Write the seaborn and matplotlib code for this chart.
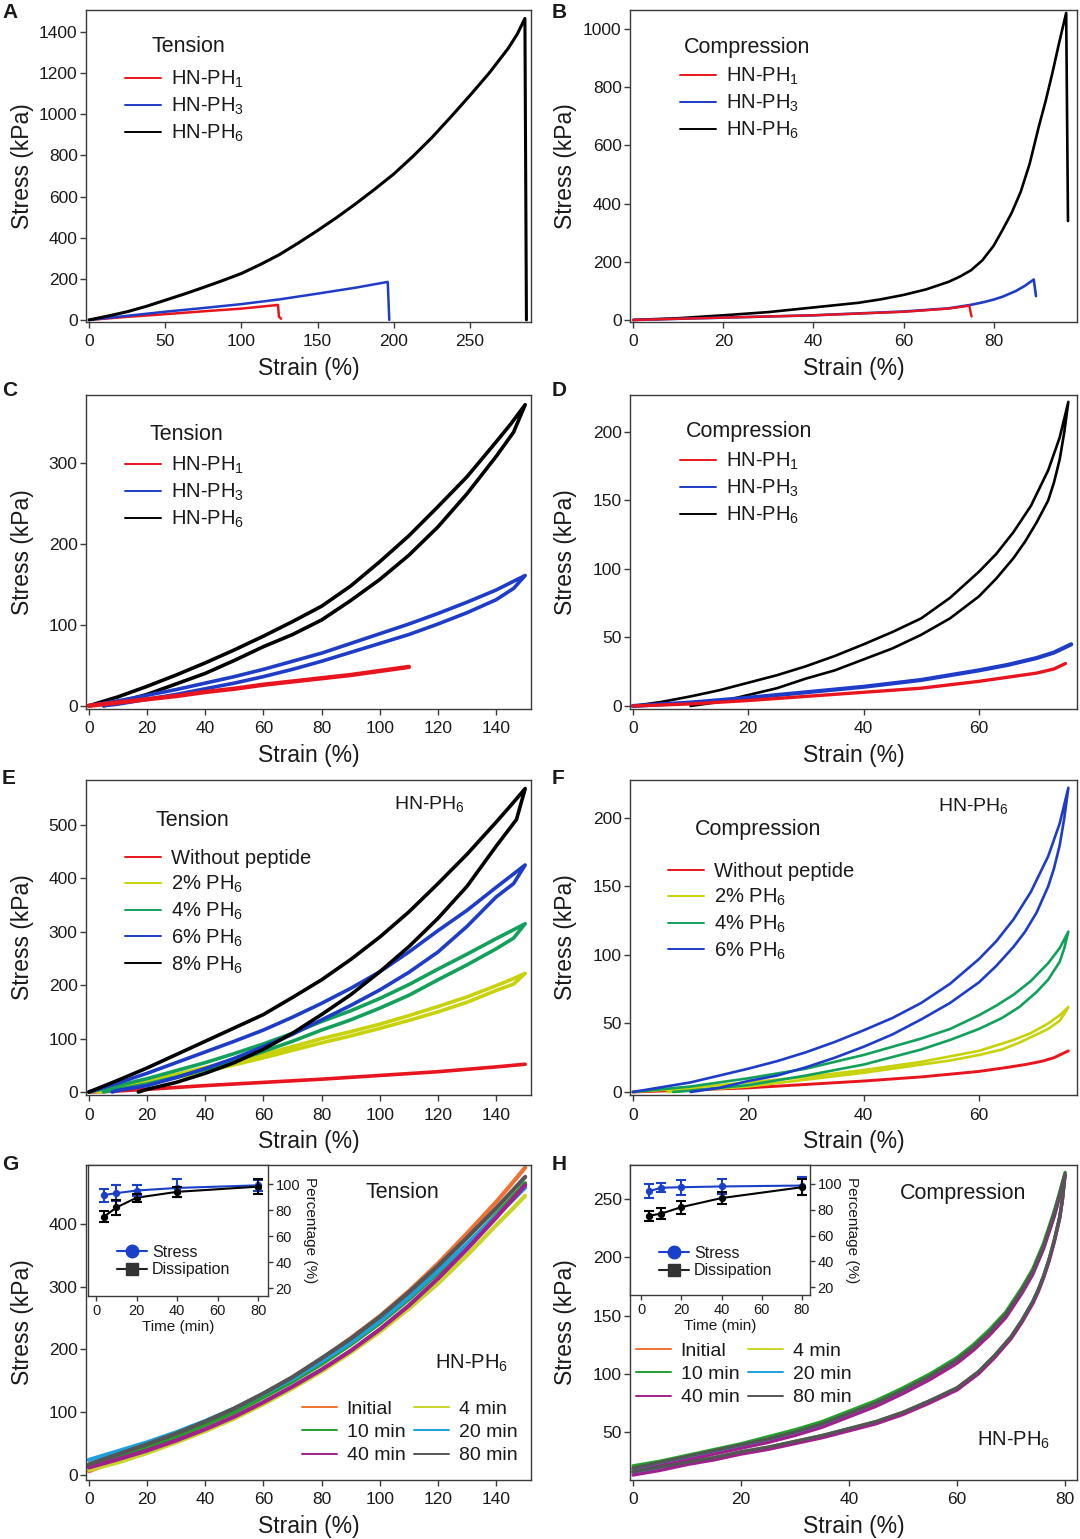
import matplotlib
matplotlib.use("Agg")
import matplotlib.pyplot as plt
import seaborn as sns
from matplotlib.lines import Line2D

# ======================= DATA =======================
# ---- Panel A: tension to failure
A_PH1_strain = [0, 25, 50, 75, 100, 124, 124.6, 126]
A_PH1_stress = [0, 15, 28, 42, 55, 73, 16, 6]
A_PH3_strain = [0, 25, 50, 75, 100, 125, 150, 175, 196, 197]
A_PH3_stress = [0, 20, 40, 58, 77, 100, 128, 157, 185, 0]
A_PH6_strain = [0, 12.5, 25, 37.5, 50, 62.5, 75, 87.5, 100, 112.5, 125, 137.5, 150, 162.5,
                175, 187.5, 200, 212.5, 225, 237.5, 250, 262.5, 275, 281, 286, 287]
A_PH6_stress = [0, 19, 40, 66, 96, 126, 158, 191, 226, 270, 318, 375, 435, 498,
                565, 636, 710, 795, 887, 988, 1092, 1200, 1320, 1390, 1466, 0]

# ---- Panel B: compression to failure
B_PH1_strain = [0, 20, 40, 60, 70, 74.6, 74.9, 75.1]
B_PH1_stress = [0, 8, 16, 28, 39, 49, 25, 12]
B_PH3_strain = [0, 20, 40, 60, 70, 75, 78, 80, 82, 85, 87, 88.9, 89.4]
B_PH3_stress = [0, 8, 16, 29, 40, 52, 62, 70, 80, 100, 118, 139, 82]
B_PH6_strain = [0, 10, 20, 30, 40, 50, 55, 60, 65, 70, 72.5, 75, 77.5, 80, 82, 84, 86, 88,
                90, 91.5, 93, 94.5, 96.1, 96.5]
B_PH6_stress = [0, 6, 16, 27, 43, 59, 71, 86, 105, 131, 149, 171, 205, 255, 310, 368, 440,
                537, 663, 750, 846, 950, 1055, 340]

# ---- Panel C: tension loading-unloading loops
C_PH1_strain = [0, 10, 20, 30, 40, 50, 60, 70, 80, 90, 100, 110]
C_PH1_stress = [0, 4, 8, 12, 17, 21, 26, 30, 34, 38, 43, 48]
C_PH3_strain = [0, 10, 20, 30, 40, 50, 60, 70, 80, 90, 100, 110, 120, 130, 140, 145, 150,
                146, 140, 130, 120, 110, 100, 90, 80, 70, 60, 50, 40, 30, 20, 10, 5]
C_PH3_stress = [0, 6, 13, 20, 28, 36, 45, 55, 65, 77, 89, 101, 114, 128, 143, 152, 161,
                145, 131, 115, 101, 88, 77, 66, 55, 45, 36, 28, 21, 14, 8, 2, 0]
C_PH6_strain = [0, 10, 20, 30, 40, 50, 60, 70, 80, 90, 100, 110, 120, 130, 140, 145, 150,
                146, 140, 130, 120, 110, 100, 90, 80, 70, 60, 50, 40, 30, 20, 10, 5]
C_PH6_stress = [0, 11, 24, 38, 53, 69, 86, 104, 123, 148, 178, 210, 246, 283, 326, 348, 372,
                338, 308, 262, 221, 186, 156, 130, 106, 88, 73, 56, 40, 27, 14, 4, 0]

# ---- Panel D: compression loading-unloading loops
D_PH1_strain = [0, 10, 20, 30, 40, 50, 60, 65, 70, 73, 75]
D_PH1_stress = [0, 1.5, 4, 7, 10, 13, 18, 21, 24, 27, 31]
D_PH3_strain = [0, 10, 20, 30, 40, 50, 60, 65, 70, 73, 76]
D_PH3_stress = [0, 2.5, 6, 10, 14, 19, 26, 30, 35, 39, 45]
D_PH6_strain = [0, 5, 10, 15, 20, 25, 30, 35, 40, 45, 50, 55, 60, 63, 66, 69, 72, 74, 75.5,
                74.8, 74, 73, 72, 70, 68, 66, 63, 60, 55, 50, 45, 40, 35, 30, 25, 20, 15, 10]
D_PH6_stress = [0, 3, 7, 11.5, 17, 22.5, 29, 36.5, 45, 54, 64, 79, 98, 111, 127, 146, 172,
                196, 222,
                200, 180, 163, 150, 134, 120, 108, 93, 80, 64, 52, 42, 34, 26, 20, 13, 8, 3, 0]

# ---- Panel E: tension loops, peptide content
E_0_strain = [0, 10, 20, 40, 60, 80, 100, 120, 140, 150]
E_0_stress = [0, 2, 5, 12, 18, 24, 31, 38, 47, 52]
E_2_strain = [0, 10, 20, 30, 40, 50, 60, 70, 80, 90, 100, 110, 120, 130, 140, 145, 150,
              146, 140, 130, 120, 110, 100, 90, 80, 70, 60, 50, 40, 30, 20, 10, 3]
E_2_stress = [0, 10, 21, 33, 46, 58, 71, 85, 100, 113, 127, 143, 160, 178, 199, 210, 222,
              202, 190, 168, 150, 134, 119, 105, 92, 78, 64, 51, 38, 27, 16, 6, 0]
E_4_strain = [0, 10, 20, 30, 40, 50, 60, 70, 80, 90, 100, 110, 120, 130, 140, 145, 150,
              146, 140, 130, 120, 110, 100, 90, 80, 70, 60, 50, 40, 30, 20, 10, 5]
E_4_stress = [0, 12, 25, 40, 55, 72, 90, 110, 132, 152, 175, 201, 230, 258, 287, 301, 315,
              288, 268, 238, 210, 181, 157, 135, 116, 95, 76, 58, 42, 28, 15, 5, 0]
E_6_strain = [0, 10, 20, 30, 40, 50, 60, 70, 80, 90, 100, 110, 120, 130, 140, 145, 150,
              146, 140, 130, 120, 110, 100, 90, 80, 70, 60, 50, 40, 30, 20, 10, 8]
E_6_stress = [0, 17, 35, 55, 75, 95, 116, 140, 166, 194, 225, 262, 302, 340, 383, 404, 425,
              390, 365, 310, 262, 224, 191, 162, 135, 108, 85, 63, 44, 27, 12, 3, 0]
E_8_strain = [0, 10, 20, 30, 40, 50, 60, 70, 80, 90, 100, 110, 120, 130, 140, 145, 150,
              147, 140, 130, 120, 110, 100, 90, 80, 70, 60, 50, 40, 30, 20, 17]
E_8_stress = [0, 22, 45, 70, 95, 120, 145, 177, 210, 248, 290, 337, 390, 445, 505, 536, 568,
              510, 460, 385, 325, 272, 225, 182, 145, 110, 80, 55, 35, 18, 5, 0]

# ---- Panel F: compression loops, peptide content
F_0_strain = [0, 10, 20, 30, 40, 50, 55, 60, 65, 68, 71, 73, 75.5]
F_0_stress = [0, 1.5, 3, 5.5, 8, 11, 13, 15, 18, 20, 22.5, 25, 30]
F_2_strain = [0, 10, 20, 30, 40, 50, 55, 60, 63, 66, 69, 72, 74, 75.5,
              74.8, 74, 72, 70, 67, 64, 60, 55, 50, 40, 30, 20, 10, 6]
F_2_stress = [0, 3, 7, 11, 16, 22, 26, 30, 34, 38, 43, 50, 56, 62,
              57, 52, 46, 42, 36, 31, 27, 23, 20, 14, 9, 4, 1, 0]
F_4_strain = [0, 10, 20, 30, 40, 50, 55, 60, 63, 66, 69, 72, 74, 75.5,
              74.8, 74, 72, 70, 67, 64, 60, 55, 50, 40, 30, 20, 10, 7]
F_4_stress = [0, 4, 10, 17, 27, 39, 46, 56, 63, 71, 81, 94, 105, 117,
              105, 95, 82, 73, 62, 54, 46, 38, 31, 20, 12, 5, 1, 0]
F_6_strain = [0, 5, 10, 15, 20, 25, 30, 35, 40, 45, 50, 55, 60, 63, 66, 69, 72, 74, 75.5,
              74.8, 74, 73, 72, 70, 68, 66, 63, 60, 55, 50, 45, 40, 35, 30, 25, 20, 15, 10]
F_6_stress = [0, 3.5, 7, 12, 17, 22.5, 29, 36.5, 45, 54, 65, 79, 97, 110, 126, 146, 172,
              196, 222,
              200, 180, 163, 150, 131, 117, 106, 92, 80, 65, 53, 42, 33, 25, 18, 12, 8, 3, 0]

# ---- Panel G: tension, recovery time (HN-PH6)
G_strain = [0, 10, 20, 30, 40, 50, 60, 70, 80, 90, 100, 110, 120, 130, 140, 145, 150]
G_initial = [6, 24, 42, 61, 82, 104, 128, 155, 185, 218, 253, 293, 337, 385, 435, 462, 490]
G_4min = [8, 20, 35, 52, 70, 90, 113, 138, 165, 195, 228, 265, 305, 350, 398, 421, 445]
G_10min = [14, 29, 44, 61, 80, 100, 124, 149, 177, 208, 242, 280, 322, 367, 415, 440, 465]
G_20min = [24, 38, 52, 68, 86, 106, 129, 153, 181, 211, 245, 283, 325, 368, 413, 435, 458]
G_40min = [12, 25, 39, 55, 73, 93, 116, 141, 168, 198, 232, 270, 313, 360, 410, 436, 462]
G_80min = [17, 33, 49, 66, 85, 106, 130, 156, 186, 217, 252, 291, 333, 378, 425, 450, 475]

# ---- Panel H: compression, recovery time (HN-PH6) loops (loading then unloading)
H_strain = [0, 5, 10, 15, 20, 25, 30, 35, 40, 45, 50, 55, 60, 63, 66, 69, 72, 74, 76, 78, 79, 80,
            79.5, 79, 78, 77, 76, 75, 74, 72, 70, 67, 64, 60, 55, 50, 45, 40, 35, 30, 25, 20,
            15, 10, 5, 0]
H_initial = [19, 23, 28, 33, 38, 43, 49, 56, 65, 74, 85, 97, 111, 122, 135, 150, 171, 187, 209,
             237, 254, 272,
             249, 234, 214, 197, 183, 171, 161, 145, 131, 115, 101, 87, 76, 66, 58, 52, 46, 41,
             36, 32, 27, 23, 19, 15]
H_4min = [18, 22, 27, 32, 37, 42, 48, 55, 64, 73, 84, 96, 110, 121, 134, 149, 170, 186, 208,
          236, 253, 271,
          249, 234, 214, 197, 183, 171, 161, 145, 131, 115, 101, 87, 76, 66, 58, 52, 46, 41,
          36, 32, 27, 23, 19, 14]
H_10min = [21, 25, 30, 35, 40, 46, 52, 59, 68, 77, 88, 100, 114, 125, 138, 153, 174, 190, 212,
           240, 256, 273,
           250, 235, 215, 198, 184, 172, 162, 146, 132, 116, 102, 88, 77, 67, 59, 53, 47, 42,
           37, 33, 28, 24, 21, 18]
H_20min = [17, 22, 27, 32, 37, 42, 48, 55, 64, 73, 84, 96, 110, 121, 134, 149, 170, 186, 208,
           236, 253, 271,
           249, 234, 214, 197, 183, 171, 161, 145, 131, 115, 101, 87, 76, 66, 58, 52, 46, 41,
           36, 32, 27, 23, 19, 15]
H_40min = [16, 21, 26, 31, 36, 41, 47, 54, 63, 72, 83, 95, 109, 120, 133, 148, 169, 185, 207,
           235, 252, 271,
           249, 233, 213, 196, 182, 170, 160, 144, 130, 114, 100, 86, 75, 65, 57, 51, 45, 40,
           35, 31, 26, 22, 17, 13]
H_80min = [19, 24, 29, 34, 39, 44, 50, 57, 66, 75, 86, 98, 112, 123, 136, 151, 172, 188, 210,
           238, 255, 272,
           250, 235, 215, 198, 184, 172, 162, 146, 132, 116, 102, 88, 77, 67, 59, 53, 47, 42,
           37, 33, 28, 24, 20, 16]

# ---- Insets: recovery percentage vs time
inset_time = [4, 10, 20, 40, 80]
G_stress_pct = [91.5, 93, 95, 97, 99]
G_stress_err = [5, 6, 4.5, 7, 4]
G_diss_pct = [75, 82, 89.5, 94, 98]
G_diss_err = [4.5, 5.5, 3, 4, 6]
H_stress_pct = [94.3, 97, 97.4, 98, 98.7]
H_stress_err = [5.5, 3.3, 5.7, 6, 7]
H_diss_pct = [75.3, 77, 82, 89, 97.4]
H_diss_err = [4, 4.5, 5, 4.5, 6]

# labels
PH_labels = ["HN-PH$_1$", "HN-PH$_3$", "HN-PH$_6$"]
E_labels = ["Without peptide", "2% PH$_6$", "4% PH$_6$", "6% PH$_6$", "8% PH$_6$"]
F_labels = ["Without peptide", "2% PH$_6$", "4% PH$_6$", "6% PH$_6$"]
time_labels = ["Initial", "4 min", "10 min", "20 min", "40 min", "80 min"]

# ======================= STYLE =======================
sns.set_theme(style="white")
plt.rcParams["font.family"] = ["Liberation Sans", "DejaVu Sans"]
plt.rcParams["mathtext.fontset"] = "custom"
plt.rcParams["mathtext.rm"] = "Liberation Sans"
plt.rcParams["mathtext.it"] = "Liberation Sans:italic"
plt.rcParams["mathtext.bf"] = "Liberation Sans:bold"
TXT = "#1a1a1a"
plt.rcParams["text.color"] = TXT
plt.rcParams["axes.labelcolor"] = TXT
plt.rcParams["xtick.color"] = TXT
plt.rcParams["ytick.color"] = TXT

RED = "#e8141e"
BLUE = "#1e3cc8"
BLACK = "#000000"
YEL = "#c8d20a"
GRN = "#12a05a"
T_COL = ["#f07032", "#c8d628", "#22a02a", "#1ea0dc", "#a0208c", "#555555"]

W, H = 1080, 1539
fig = plt.figure(figsize=(W / 100, H / 100), dpi=100)
fig.patch.set_facecolor("white")

TICK_FS = 12.5
LAB_FS = 16.5
LEG_FS = 14.5
TITLE_FS = 15.5


def fx(px):
    return px / W


def fy(py):
    return 1 - py / H


def make_axes(box):
    l, t, r, b = box
    return fig.add_axes([fx(l), fy(b), (r - l) / W, (b - t) / H])


def style(ax, box, xlim, ylim, xticks, yticks, ylab_px):
    l, t, r, b = box
    ax.set_xlim(*xlim)
    ax.set_ylim(*ylim)
    ax.set_xticks(xticks)
    ax.set_yticks(yticks)
    for s in ax.spines.values():
        s.set_visible(True)
        s.set_color("#3a3a3a")
        s.set_linewidth(1.0)
    ax.tick_params(axis="both", which="major", direction="out", length=4.5, width=1.0,
                   color="#3a3a3a", labelsize=TICK_FS, bottom=True, left=True,
                   top=False, right=False)
    ax.tick_params(axis="x", pad=4.5)
    ax.tick_params(axis="y", pad=1.5)
    ax.set_xlabel("Strain (%)", fontsize=LAB_FS)
    ax.set_ylabel("Stress (kPa)", fontsize=LAB_FS)
    ax.xaxis.set_label_coords(0.5, -(35 / (b - t)))
    ax.yaxis.set_label_coords((ylab_px - l) / (r - l), 0.5)


def curve(ax, xs, ys, color, lw, z=2):
    sns.lineplot(x=xs, y=ys, sort=False, estimator=None, errorbar=None, color=color,
                 linewidth=lw, ax=ax, legend=False, zorder=z)


def legend(ax, labels, colors, x_px, y_px, ncol=1, fs=LEG_FS, spacing=0.28, colsp=0.45,
           lw=1.4):
    handles = [Line2D([], [], color=c, lw=lw) for c in colors]
    return ax.legend(handles, labels, loc="upper left",
                     bbox_to_anchor=(fx(x_px), fy(y_px)), bbox_transform=fig.transFigure,
                     frameon=False, fontsize=fs, handlelength=1.8, handletextpad=0.5,
                     labelspacing=spacing, borderpad=0, borderaxespad=0, ncol=ncol,
                     columnspacing=colsp)


def ftext(x_px, y_px, s, fs=TITLE_FS, weight="normal"):
    fig.text(fx(x_px), fy(y_px), s, fontsize=fs, fontweight=weight, ha="left", va="center",
             color=TXT)


BOX = {
    "A": (86, 10, 531, 322),
    "B": (630, 10, 1077, 322),
    "C": (86, 395, 531, 709),
    "D": (630, 395, 1077, 709),
    "E": (86, 780, 531, 1095),
    "F": (630, 780, 1077, 1095),
    "G": (86, 1165, 531, 1480),
    "H": (630, 1165, 1077, 1480),
}
YLAB_L, YLAB_R = 34, 577

# ---------------- Panel A ----------------
ax = make_axes(BOX["A"])
curve(ax, A_PH1_strain, A_PH1_stress, RED, 1.8)
curve(ax, A_PH3_strain, A_PH3_stress, BLUE, 1.8)
curve(ax, A_PH6_strain, A_PH6_stress, BLACK, 2.2)
style(ax, BOX["A"], (-2, 290), (-10, 1507), [0, 50, 100, 150, 200, 250],
      [0, 200, 400, 600, 800, 1000, 1200, 1400], YLAB_L)
legend(ax, PH_labels, [RED, BLUE, BLACK], 125, 69)
ftext(152, 47, "Tension")

# ---------------- Panel B ----------------
ax = make_axes(BOX["B"])
curve(ax, B_PH6_strain, B_PH6_stress, BLACK, 1.9)
curve(ax, B_PH3_strain, B_PH3_stress, BLUE, 1.9)
curve(ax, B_PH1_strain, B_PH1_stress, RED, 1.7)
style(ax, BOX["B"], (-0.7, 98.5), (-7, 1065), [0, 20, 40, 60, 80],
      [0, 200, 400, 600, 800, 1000], YLAB_R)
legend(ax, PH_labels, [RED, BLUE, BLACK], 680, 66)
ftext(684, 48, "Compression")

# ---------------- Panel C ----------------
ax = make_axes(BOX["C"])
curve(ax, C_PH6_strain, C_PH6_stress, BLACK, 2.6)
curve(ax, C_PH3_strain, C_PH3_stress, BLUE, 2.6)
curve(ax, C_PH1_strain, C_PH1_stress, RED, 3.2)
style(ax, BOX["C"], (-1, 152), (-4, 384), [0, 20, 40, 60, 80, 100, 120, 140],
      [0, 100, 200, 300], YLAB_L)
legend(ax, PH_labels, [RED, BLUE, BLACK], 125, 455)
ftext(150, 434, "Tension")

# ---------------- Panel D ----------------
ax = make_axes(BOX["D"])
curve(ax, D_PH6_strain, D_PH6_stress, BLACK, 1.9)
curve(ax, D_PH3_strain, D_PH3_stress, BLUE, 3.0)
curve(ax, D_PH1_strain, D_PH1_stress, RED, 2.4)
style(ax, BOX["D"], (-0.5, 77), (-2.2, 227), [0, 20, 40, 60],
      [0, 50, 100, 150, 200], YLAB_R)
legend(ax, PH_labels, [RED, BLUE, BLACK], 680, 451)
ftext(686, 432, "Compression")

# ---------------- Panel E ----------------
ax = make_axes(BOX["E"])
curve(ax, E_0_strain, E_0_stress, RED, 2.6)
curve(ax, E_2_strain, E_2_stress, YEL, 2.6)
curve(ax, E_4_strain, E_4_stress, GRN, 2.6)
curve(ax, E_6_strain, E_6_stress, BLUE, 2.6)
curve(ax, E_8_strain, E_8_stress, BLACK, 2.6)
style(ax, BOX["E"], (-1, 152), (-5.6, 584), [0, 20, 40, 60, 80, 100, 120, 140],
      [0, 100, 200, 300, 400, 500], YLAB_L)
legend(ax, E_labels, [RED, YEL, GRN, BLUE, BLACK], 125, 849)
ftext(155, 821, "Tension")
ftext(394, 804, "HN-PH$_6$", fs=14)

# ---------------- Panel F ----------------
ax = make_axes(BOX["F"])
curve(ax, F_0_strain, F_0_stress, RED, 2.1)
curve(ax, F_2_strain, F_2_stress, YEL, 1.9)
curve(ax, F_4_strain, F_4_stress, GRN, 1.9)
curve(ax, F_6_strain, F_6_stress, BLUE, 1.9)
style(ax, BOX["F"], (-0.5, 77), (-2.2, 227.7), [0, 20, 40, 60],
      [0, 50, 100, 150, 200], YLAB_R)
legend(ax, F_labels, [RED, YEL, GRN, BLUE], 668, 862)
ftext(695, 830, "Compression")
ftext(938, 806, "HN-PH$_6$", fs=14)

# ---------------- Panel G ----------------
ax = make_axes(BOX["G"])
for ys, c in zip([G_initial, G_4min, G_10min, G_20min, G_40min, G_80min], T_COL):
    curve(ax, G_strain, ys, c, 3.0)
style(ax, BOX["G"], (-1, 152), (-8, 494), [0, 20, 40, 60, 80, 100, 120, 140],
      [0, 100, 200, 300, 400], YLAB_L)
order = [0, 2, 4, 1, 3, 5]
legend(ax, [time_labels[i] for i in order], [T_COL[i] for i in order], 302, 1400,
       ncol=2, fs=14, spacing=0.3, colsp=0.45)
ftext(365, 1192, "Tension")
ftext(435, 1363, "HN-PH$_6$", fs=14.5)

# ---------------- Panel H ----------------
ax = make_axes(BOX["H"])
for ys, c in zip([H_initial, H_4min, H_10min, H_20min, H_40min, H_80min], T_COL):
    curve(ax, H_strain, ys, c, 2.3)
style(ax, BOX["H"], (-0.56, 82.2), (8.8, 279.2), [0, 20, 40, 60, 80],
      [50, 100, 150, 200, 250], YLAB_R)
legend(ax, [time_labels[i] for i in order], [T_COL[i] for i in order], 636, 1342,
       ncol=2, fs=14, spacing=0.3, colsp=0.45)
ftext(900, 1193, "Compression")
ftext(977, 1440, "HN-PH$_6$", fs=14.5)

# ---------------- Insets ----------------
IBLUE = "#1a3fc8"


def inset(box, stress, serr, diss, derr, xlim, leg_xy):
    axi = make_axes(box)
    axi.set_facecolor("white")
    axi.set_zorder(5)
    sns.lineplot(x=inset_time, y=stress, color=IBLUE, marker="o", markersize=4.5,
                 markeredgecolor=IBLUE, linewidth=1.5, ax=axi, estimator=None,
                 errorbar=None, legend=False)
    sns.lineplot(x=inset_time, y=diss, color=BLACK, marker="o", markersize=4.5,
                 markeredgecolor=BLACK, linewidth=1.5, ax=axi, estimator=None,
                 errorbar=None, legend=False)
    axi.errorbar(inset_time, stress, yerr=serr, fmt="none", ecolor=IBLUE, elinewidth=1.5,
                 capsize=3.5, capthick=1.5)
    axi.errorbar(inset_time, diss, yerr=derr, fmt="none", ecolor=BLACK, elinewidth=1.5,
                 capsize=3.5, capthick=1.5)
    axi.set_xlim(*xlim)
    axi.set_ylim(14, 114.6)
    axi.set_xticks([0, 20, 40, 60, 80])
    axi.set_yticks([20, 40, 60, 80, 100])
    for s in axi.spines.values():
        s.set_visible(True)
        s.set_color("#3a3a3a")
        s.set_linewidth(1.0)
    axi.yaxis.tick_right()
    axi.yaxis.set_label_position("right")
    axi.tick_params(axis="both", direction="out", length=3.5, width=1.0, color="#3a3a3a",
                    labelsize=10.5, pad=2)
    axi.tick_params(axis="y", right=True, left=False, labelright=True, labelleft=False)
    axi.tick_params(axis="x", bottom=True, top=False)
    axi.set_xlabel("Time (min)", fontsize=11, labelpad=2)
    axi.set_ylabel("Percentage (%)", fontsize=11, rotation=270, labelpad=12)
    hs = [Line2D([], [], color=IBLUE, lw=1.5, marker="o", markersize=9,
                 markerfacecolor=IBLUE, markeredgecolor=IBLUE),
          Line2D([], [], color="#222222", lw=1.5, marker="s", markersize=9,
                 markerfacecolor="#333333", markeredgecolor="#333333")]
    axi.legend(hs, ["Stress", "Dissipation"], loc="upper left",
               bbox_to_anchor=(fx(leg_xy[0]), fy(leg_xy[1])), bbox_transform=fig.transFigure,
               frameon=False, fontsize=11.5, handlelength=1.9, handletextpad=0.3,
               labelspacing=0.15, borderpad=0, borderaxespad=0)
    return axi


inset((88, 1165, 268, 1296), G_stress_pct, G_stress_err, G_diss_pct, G_diss_err,
      (-4, 84.7), (117, 1245))
inset((630, 1165, 810, 1295), H_stress_pct, H_stress_err, H_diss_pct, H_diss_err,
      (-5.5, 84), (659, 1246))

# ---------------- Panel letters ----------------
for letter, (xp, yp) in {"A": (2, 12), "B": (552, 12), "C": (2, 390), "D": (552, 391),
                         "E": (2, 779), "F": (552, 779), "G": (2, 1165), "H": (552, 1165)}.items():
    ftext(xp, yp, letter, fs=15, weight="bold")

fig.savefig("out.png", dpi=100, facecolor="white")
